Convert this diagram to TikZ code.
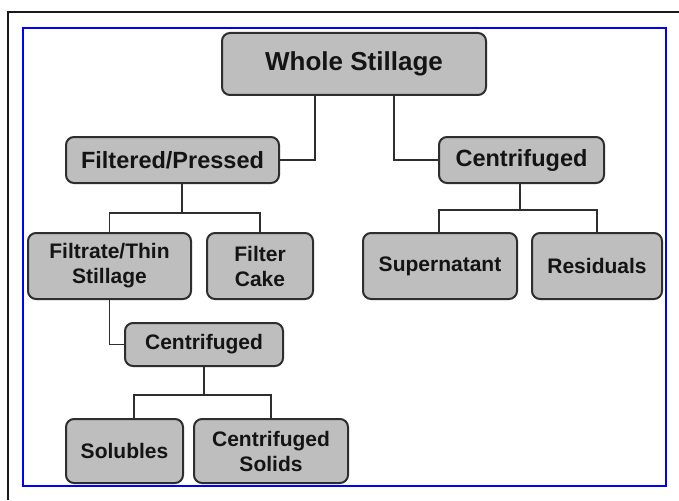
\documentclass[tikz,border=0pt]{standalone}
\usepackage{fontspec}
\setmainfont{Liberation Sans}
\definecolor{boxfill}{HTML}{BEBEBE}
\definecolor{boxline}{HTML}{2E2E2E}
\definecolor{txt}{HTML}{141414}
\tikzset{
  box/.style={draw=boxline, fill=boxfill, line width=2pt, rounded corners=8pt,
    inner sep=0pt, align=center, text=txt, font=\bfseries},
  conn/.style={draw=boxline, line width=1.8pt},
  lbig/.style={font=\fontsize{26}{30}\selectfont\bfseries},
  lmid/.style={font=\fontsize{23.5}{27}\selectfont\bfseries},
  lsmall/.style={font=\fontsize{21}{25}\selectfont\bfseries}
}
\begin{document}
\begin{tikzpicture}[x=1pt,y=-1pt]
\useasboundingbox (0,0) rectangle (679,500);
\fill[white] (0,0) rectangle (679,500);
% outer frame lines
\draw[line width=2.2pt, black!90] (8,500) -- (8,12) -- (679,12);
% blue frame
\draw[line width=2.8pt, blue] (23,28) rectangle (666,486);

\node[box, lbig, minimum width=264pt, minimum height=62pt] (ws) at (354,64) {Whole Stillage};
\node[box, lmid, minimum width=213pt, minimum height=46pt] (fp) at (172.5,160) {Filtered/Pressed};
\node[box, lmid, minimum width=165pt, minimum height=46pt] (c1) at (521.5,160) {Centrifuged};
\node[box, lsmall, minimum width=154pt, minimum height=66pt] (sup) at (440,266) {Supernatant};
\node[box, lsmall, minimum width=130pt, minimum height=66pt] (res) at (597,266) {Residuals};
\node[box, lsmall, minimum width=163pt, minimum height=66pt] (ft) at (109.5,266) {Filtrate/Thin\\Stillage};
\node[box, lsmall, minimum width=106pt, minimum height=66pt] (fc) at (260,266) {Filter\\Cake};
\node[box, lsmall, minimum width=158pt, minimum height=43pt] (c2) at (204,344.5) {Centrifuged};
\node[box, lsmall, minimum width=117pt, minimum height=64pt] (sol) at (124.5,451) {Solubles};
\node[box, lsmall, minimum width=154pt, minimum height=64pt] (cs) at (271,451) {Centrifuged\\Solids};

% connectors
\draw[conn] ([xshift=-39pt]ws.south) |- (fp.east);
\draw[conn] ([xshift=40pt]ws.south) |- (c1.west);

\coordinate (j1) at ([xshift=-1.5pt]c1.south |- 0,210);
\draw[conn] ([xshift=-1.5pt]c1.south) -- (j1);
\draw[conn] ([xshift=-1pt]sup.north) |- (j1) -| (res.north);

\coordinate (j2) at ([xshift=9.5pt]fp.south |- 0,213);
\draw[conn] ([xshift=9.5pt]fp.south) -- (j2);
\draw[conn] (ft.north) |- (j2) -| (fc.north);

\draw[conn] (ft.south) |- (c2.west);

\coordinate (j3) at (c2.south |- 0,395);
\draw[conn] (c2.south) -- (j3);
\draw[conn] ([xshift=9.5pt]sol.north) |- (j3) -| (cs.north);
\end{tikzpicture}
\end{document}
